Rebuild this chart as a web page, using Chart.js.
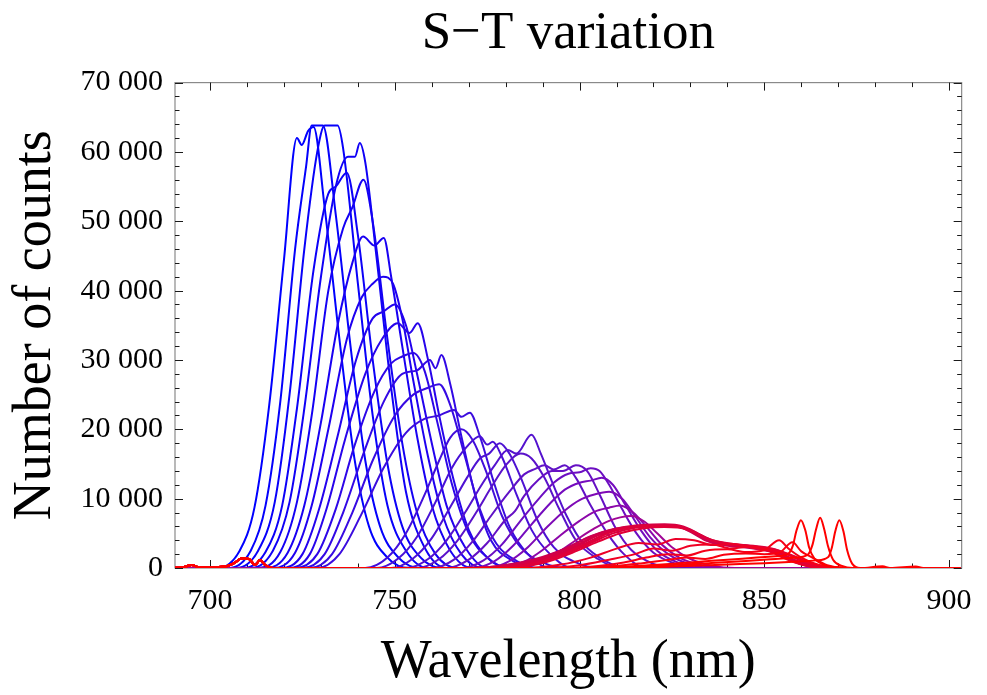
<!DOCTYPE html>
<html>
<head>
<meta charset="utf-8">
<script src="https://cdn.jsdelivr.net/npm/chart.js@4.4.1/dist/chart.umd.min.js"></script>
<style>
  html, body { margin: 0; padding: 0; background: #fff; }
  canvas { display: block; }
</style>
</head>
<body>
<canvas id="grafico" width="987" height="695"></canvas>
<script>
// tick values
const xMajor = [700, 750, 800, 850, 900];
const yMajor = [0, 10000, 20000, 30000, 40000, 50000, 60000, 70000];

// small bump shared by the red spectra near 708 nm
const leftBump = [[690,0],[693,150],[695,450],[697,100],[700,100],[704,200],[706.5,700],[708.6,1400],[710.5,1300],[712.2,450],[713.5,1150],[715,400],[717,0]];

// spectra, blue (first) to red (last): [wavelength nm, counts]
const spectra = [
  [[690,0],[702,0],[708,2500],[712,8700],[716,23500],[720,44500],[723.5,62000],[724.8,61000],[726.5,63000],[728,63600],[731,52000],[735,33000],[739,16000],[743,6000],[748,1500],[754,0],[903,0]],
  [[690,0],[705,0],[711,2500],[715,9000],[719,24000],[723,46000],[726,58000],[727.5,63800],[730.5,63800],[734,51000],[738,32000],[742,15500],[746,6000],[751,1500],[757,0],[903,0]],
  [[690,0],[707,0],[713,2500],[717.5,9500],[721.5,25000],[725.5,46000],[729,60000],[731,63800],[734.5,63800],[736,60500],[740,41000],[744,22000],[748,9000],[753,2500],[759,0],[903,0]],
  [[690,0],[709,0],[715,2300],[719.5,9000],[723.5,23000],[728,43000],[732,54000],[734,55000],[737,57000],[740,48000],[744,30000],[748,15000],[752,6000],[757,1500],[763,0],[903,0]],
  [[690,0],[711,0],[717,2500],[721.5,9500],[725.5,23000],[730,42000],[734,55000],[737.3,59300],[739.2,59300],[740.5,61300],[742,58500],[745,45000],[749,26000],[753,11000],[758,3000],[764,0],[903,0]],
  [[690,0],[713,0],[719,2300],[723.5,9500],[727.5,22000],[732,40000],[736,49000],[738.5,52000],[741.5,56000],[744,50000],[748,33000],[752,18000],[756,8000],[761,2000],[767,0],[903,0]],
  [[690,0],[715,0],[721,2200],[725.5,9000],[730,21000],[734.5,35000],[738.5,44000],[741.4,47800],[744.5,46500],[747,47600],[749,42000],[752,32000],[756,19000],[760,9000],[765,2500],[771,0],[903,0]],
  [[690,0],[717,0],[723,2200],[727.5,9000],[732,20000],[737,33000],[741,39000],[744,41000],[746.8,42000],[749.5,41000],[752,36000],[755,27000],[759,16000],[763,7500],[768,2000],[774,0],[903,0]],
  [[690,0],[719,0],[725,2000],[729.5,8500],[734.5,19000],[739.5,30000],[744,36000],[747,37000],[750,38000],[753,35000],[756,28000],[760,18000],[764,9000],[769,3000],[775,0],[903,0]],
  [[690,0],[721,0],[727,2000],[731.5,8500],[736.5,18500],[742,28000],[746.5,33000],[750.8,35300],[754,33900],[756.2,35300],[759,30000],[762,22000],[766,12500],[770,5500],[775,1500],[781,0],[903,0]],
  [[690,0],[723,0],[729,2000],[734,8500],[739,17500],[744.5,25500],[749,29500],[752,30500],[755,31000],[758,28500],[761.5,21000],[765.5,12000],[770,5000],[775,1500],[781,0],[903,0]],
  [[690,0],[725,0],[731,2000],[736,8000],[741.5,16500],[747,24000],[752,28000],[756,28500],[759.5,30000],[761,28800],[762.6,30700],[765,26500],[768,19000],[772,10000],[776,4000],[782,1000],[788,0],[903,0]],
  [[690,0],[727,0],[733,2000],[738.5,8000],[744,15500],[750,22000],[755,25000],[759,26000],[762,26500],[765,23500],[769,16000],[773,8500],[777.5,3500],[783,1000],[789,0],[903,0]],
  [[690,0],[729,0],[735,2000],[741,7800],[747,14500],[753,19500],[758,21500],[762,22000],[766,22800],[768,21800],[770.3,22400],[773,19000],[777,12000],[781,6000],[786,2000],[792,0],[903,0]],
  [[690,0],[742,0],[748,1500],[753,5000],[758,10500],[762,15500],[765,18800],[768,20000],[771,18500],[775,13500],[779,7500],[784,3000],[790,800],[796,0],[903,0]],
  [[690,0],[745,0],[751,1400],[756,4500],[761,9500],[765.5,14500],[769.5,17500],[773,19000],[775,17800],[776.5,18200],[779,16000],[783,10500],[787,5500],[792,2000],[798,0],[903,0]],
  [[690,0],[749,0],[755,1400],[760,4300],[765,8800],[769.5,13000],[773,15800],[775.5,16500],[778.4,18000],[781,16500],[784.5,12500],[788.5,7000],[793,3000],[799,800],[805,0],[903,0]],
  [[690,0],[753,0],[759,1300],[764,4000],[769,8000],[773.5,12000],[777,14800],[780.6,17000],[782.9,16500],[787,19200],[789.5,16500],[792.5,12500],[796.5,7500],[801,3500],[807,1000],[813,0],[903,0]],
  [[690,0],[756,0],[762,1300],[767,4000],[772,8000],[776.5,12000],[780,14800],[784,16500],[787,15800],[790.5,13000],[794.5,8500],[799,4000],[805,1300],[811,0],[903,0]],
  [[690,0],[760,0],[766,1200],[771,3800],[776,7500],[781,11000],[785,13500],[788,14300],[790.5,14800],[793,14200],[796,14800],[799,13000],[803,9000],[807.5,5000],[812,2000],[818,0],[903,0]],
  [[690,0],[764,0],[770,1200],[775,3600],[780,7000],[782.5,8200],[785,10400],[789,12800],[792.5,14000],[795.5,14000],[799,14800],[802,14000],[805.5,10500],[809.5,6000],[814,2600],[820,600],[826,0],[903,0]],
  [[690,0],[768,0],[774,1100],[779,3400],[784,6800],[789,10000],[793,12300],[797,13600],[800,13800],[803,14400],[805.4,14000],[808,12000],[811.5,8500],[815.4,5000],[820,2200],[826,600],[832,0],[903,0]],
  [[690,0],[771,0],[777,1000],[782,3200],[787,6300],[792,9300],[796,11300],[800,12300],[803,12600],[806,13000],[809,12000],[812.5,9000],[816.5,5500],[821,2500],[827,700],[833,0],[903,0]],
  [[690,0],[775,0],[781,1000],[786,3000],[791,5800],[796,8300],[800,9800],[804,10600],[808,11000],[811.5,10000],[815,7500],[819,4500],[824,2000],[830,500],[836,0],[903,0]],
  [[690,0],[779,0],[785,900],[790,2600],[795,4800],[800,6800],[804,8100],[808,8700],[811,9000],[814.5,8000],[818,6000],[822,3500],[827,1500],[833,400],[839,0],[903,0]],
  [[690,0],[783,0],[789,800],[794,2200],[799,4000],[804,5700],[808,6800],[811,7300],[814,7500],[817.5,6700],[821,5000],[825,3000],[830,1300],[836,300],[842,0],[903,0]],
  // red group
  leftBump.concat([[725,0],[770,0],[780,400],[790,1500],[797,3000],[803,4600],[809,5600],[815,6000],[821,6200],[826,6100],[830,5200],[834,4000],[838,3400],[842.5,3300],[848,3000],[853,2200],[858,900],[863,200],[868,0],[903,0]]),
  leftBump.concat([[725,0],[772,0],[782,400],[792,1600],[799,3100],[805,4700],[811,5700],[817,6100],[823,6200],[828,5900],[832,4800],[836,3800],[841,3400],[846,3100],[851,2600],[856,1500],[861,500],[867,0],[903,0]]),
  leftBump.concat([[725,0],[775,0],[785,500],[794,1800],[801,3400],[807,4900],[813,5800],[819,6200],[825,6100],[830,5500],[834,4300],[839,3500],[844,3300],[849,2900],[854,2200],[859,1000],[865,200],[870,0],[903,0]]),
  leftBump.concat([[725,0],[768,0],[778,300],[788,1300],[796,2800],[802,4300],[808,5400],[814,5900],[820,6000],[826,6000],[830,5300],[835,3900],[840,3200],[846,2900],[852,2300],[857,1200],[862,300],[868,0],[903,0]]),
  leftBump.concat([[725,0],[778,0],[788,600],[796,2000],[803,3600],[809,5000],[815,5800],[821,6100],[827,6000],[831,5200],[836,4000],[841,3500],[847,3200],[852,2800],[857,1800],[862,600],[868,0],[903,0]]),
  leftBump.concat([[725,0],[780,0],[790,700],[798,2200],[805,3800],[811,5000],[817,5700],[823,5900],[829,5600],[833,4600],[838,3700],[843,3300],[849,3000],[854,2500],[859,1500],[864,400],[870,0],[903,0]]),
  leftBump.concat([[725,0],[773,0],[783,500],[792,1800],[799,3300],[805,4800],[811,5800],[817,6200],[823,6300],[828,6000],[832,5000],[836,3900],[841,3300],[846,3100],[851,2500],[856,1400],[861,400],[866,0],[903,0]]),
  leftBump.concat([[725,0],[776,0],[786,500],[795,1900],[802,3500],[808,5100],[814,5900],[820,6100],[826,6100],[830,5400],[835,4100],[840,3400],[845,3200],[850,2800],[855,1900],[860,700],[866,0],[903,0]]),
  leftBump.concat([[725,0],[785,0],[795,500],[803,1500],[810,2800],[816,3600],[821,3400],[826,4200],[831,4000],[836,3300],[841,3500],[846,3000],[851,2500],[855,1500],[860,500],[866,0],[903,0]]),
  leftBump.concat([[725,0],[790,0],[800,400],[808,1200],[815,2000],[820,2800],[825,2500],[830,3200],[836,3400],[841,2800],[846,3100],[851,2700],[856,2000],[861,900],[867,200],[872,0],[903,0]]),
  leftBump.concat([[725,0],[795,0],[805,300],[812,800],[818,1500],[824,2000],[829,1800],[834,2500],[840,2700],[845,2300],[850,2600],[854,4000],[856.5,2800],[860,1500],[865,400],[871,0],[903,0]]),
  leftBump.concat([[725,0],[800,0],[810,300],[817,700],[823,1100],[829,1500],[834,1300],[839,1900],[845,2100],[850,2000],[854,2200],[857.6,3700],[860,2400],[863,1500],[867,400],[872,0],[903,0]]),
  leftBump.concat([[725,0],[800,0],[815,300],[830,800],[840,1200],[848,1500],[853,1700],[856.3,2000],[857.7,3200],[858.7,5400],[859.9,6900],[861.1,5400],[862.1,3000],[863.5,1400],[866,500],[869,100],[872,0],[903,0]]),
  leftBump.concat([[725,0],[805,0],[820,300],[835,700],[845,1000],[853,1300],[858,1500],[861.7,1900],[863,3300],[864,5600],[865.1,7250],[866.2,5600],[867.2,3200],[868.6,1200],[871,300],[874,0],[903,0]]),
  leftBump.concat([[725,0],[810,0],[825,200],[840,500],[850,700],[858,900],[864,1100],[867.3,1600],[868.3,3000],[869.2,5300],[870.3,6900],[871.4,5300],[872.4,2600],[873.8,600],[876,0],[882,250],[884,0],[891,200],[893,0],[903,0]])
];

const lineColors = [
  'rgb(0,0,255)','rgb(4,0,252)','rgb(8,0,250)','rgb(12,0,248)','rgb(16,0,246)','rgb(20,0,244)',
  'rgb(25,0,242)','rgb(30,0,240)','rgb(35,2,238)','rgb(40,4,235)','rgb(45,6,232)','rgb(50,8,229)',
  'rgb(55,10,226)','rgb(60,12,222)','rgb(66,14,218)','rgb(72,16,214)','rgb(78,18,210)','rgb(84,18,206)',
  'rgb(90,18,202)','rgb(96,18,198)','rgb(102,16,196)','rgb(108,14,194)','rgb(116,12,190)','rgb(126,10,182)',
  'rgb(140,8,170)','rgb(160,6,150)',
  'rgb(205,0,75)','rgb(210,0,70)','rgb(215,0,65)','rgb(200,0,85)','rgb(220,0,60)','rgb(225,0,55)',
  'rgb(212,0,68)','rgb(222,0,58)',
  'rgb(235,0,40)','rgb(240,0,35)','rgb(245,0,25)','rgb(250,0,15)',
  'rgb(255,0,0)','rgb(255,0,0)','rgb(255,0,0)'
];

const serif = '"Liberation Serif", "Times New Roman", serif';

// frame and inward ticks like the original plot
const moldura = {
  id: 'moldura',
  beforeDatasetsDraw(chart) {
    const { ctx, chartArea: a, scales: { x, y } } = chart;
    ctx.save();
    ctx.strokeStyle = '#8a8a8a';
    ctx.lineWidth = 1.2;
    ctx.strokeRect(a.left, a.top, a.right - a.left, a.bottom - a.top);
    ctx.strokeStyle = '#1a1a1a';
    ctx.lineWidth = 1;
    ctx.beginPath();
    for (let v = 700; v <= 900; v += 10) {
      const px = Math.round(x.getPixelForValue(v)) + 0.5;
      const len = xMajor.includes(v) ? 8 : 4.5;
      ctx.moveTo(px, a.bottom); ctx.lineTo(px, a.bottom - len);
      ctx.moveTo(px, a.top); ctx.lineTo(px, a.top + len);
    }
    for (let v = 0; v <= 70000; v += 2000) {
      const py = Math.round(y.getPixelForValue(v)) + 0.5;
      const len = yMajor.includes(v) ? 8 : 4.5;
      ctx.moveTo(a.left, py); ctx.lineTo(a.left + len, py);
      ctx.moveTo(a.right, py); ctx.lineTo(a.right - len, py);
    }
    ctx.stroke();
    ctx.restore();
  }
};

const N = spectra.length;
const datasets = spectra.map((s, i) => ({
  data: s.map(p => ({ x: p[0], y: p[1] })),
  borderColor: lineColors[i],
  borderWidth: 2,
  pointRadius: 0,
  fill: false,
  cubicInterpolationMode: 'monotone',
  order: N - i
}));

const ctx = document.getElementById('grafico').getContext('2d');
new Chart(ctx, {
  type: 'line',
  data: { datasets },
  plugins: [moldura],
  options: {
    responsive: false,
    animation: false,
    devicePixelRatio: 1,
    layout: { padding: { left: 0, right: 24, top: 0, bottom: 0 } },
    plugins: {
      legend: { display: false },
      tooltip: { enabled: false },
      title: {
        display: true,
        text: 'S\u2212T variation',
        fullSize: false,
        color: '#000',
        font: { family: serif, size: 53, weight: 'normal' },
        padding: { top: 2, bottom: 17 }
      }
    },
    scales: {
      x: {
        type: 'linear',
        min: 690.5,
        max: 903.4,
        afterBuildTicks: s => { s.ticks = xMajor.map(v => ({ value: v })); },
        afterFit: s => { s.height = 127; },
        grid: { display: false, drawTicks: false },
        border: { display: false },
        ticks: { color: '#000', padding: 15, maxRotation: 0, font: { family: serif, size: 30 } },
        title: {
          display: true,
          text: 'Wavelength (nm)',
          color: '#000',
          font: { family: serif, size: 54 },
          padding: { top: 0, bottom: 0 }
        }
      },
      y: {
        min: 0,
        max: 70000,
        afterBuildTicks: s => { s.ticks = yMajor.map(v => ({ value: v })); },
        afterFit: s => { s.width = 175; },
        grid: { display: false, drawTicks: false },
        border: { display: false },
        ticks: {
          color: '#000',
          padding: 12,
          font: { family: serif, size: 30 },
          callback: v => String(v).replace(/\B(?=(\d{3})+(?!\d))/g, ' ')
        },
        title: {
          display: true,
          text: 'Number of counts',
          color: '#000',
          font: { family: serif, size: 54 },
          padding: { top: 3, bottom: 0 }
        }
      }
    }
  }
});
</script>
</body>
</html>
